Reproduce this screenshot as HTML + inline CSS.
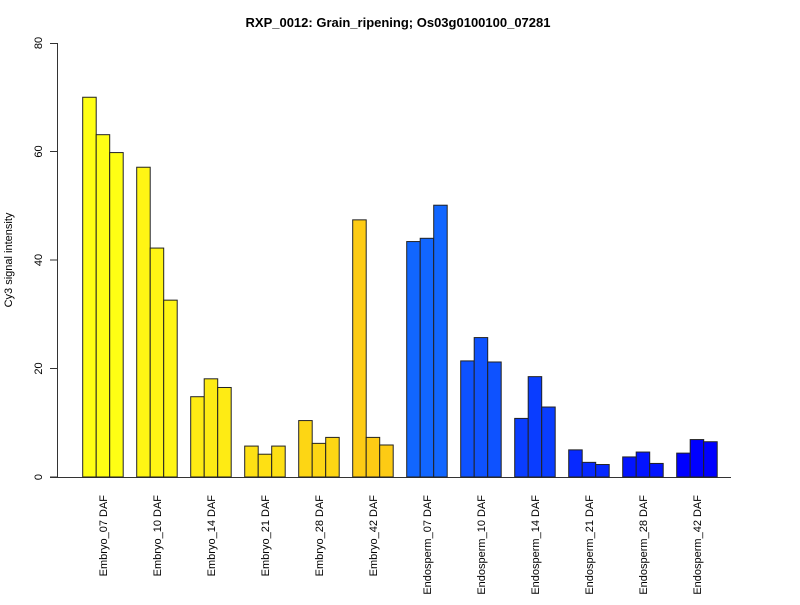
<!DOCTYPE html>
<html><head><meta charset="utf-8"><style>html,body{margin:0;padding:0;background:#fff}</style></head>
<body>
<svg xmlns="http://www.w3.org/2000/svg" width="800" height="600" viewBox="0 0 800 600" font-family="Liberation Sans, Arial, sans-serif">
<rect width="800" height="600" fill="#fff"/>
<text x="398" y="27" text-anchor="middle" font-weight="bold" font-size="13">RXP_0012: Grain_ripening; Os03g0100100_07281</text>
<text transform="translate(12,260) rotate(-90)" text-anchor="middle" font-size="11">Cy3 signal intensity</text>
<g stroke="#333" stroke-width="1">
<line x1="57.5" y1="43" x2="57.5" y2="477"/>
<line x1="50" y1="43.5" x2="57.5" y2="43.5"/>
<line x1="50" y1="151.5" x2="57.5" y2="151.5"/>
<line x1="50" y1="260" x2="57.5" y2="260"/>
<line x1="50" y1="368.5" x2="57.5" y2="368.5"/>
<line x1="50" y1="477" x2="57.5" y2="477"/>
<line x1="50" y1="477.5" x2="731" y2="477.5"/>
</g>
<g font-size="11" text-anchor="middle">
<text transform="translate(42,43) rotate(-90)">80</text>
<text transform="translate(42,151.5) rotate(-90)">60</text>
<text transform="translate(42,260) rotate(-90)">40</text>
<text transform="translate(42,368.5) rotate(-90)">20</text>
<text transform="translate(42,477) rotate(-90)">0</text>
</g>
<g id="bars" stroke="#222" stroke-width="1"></g>
<g id="labels" font-size="11" text-anchor="end"></g>
<script>
var data=[[70.0,63.1,59.8],[57.1,42.2,32.6],[14.8,18.1,16.5],[5.7,4.2,5.7],[10.4,6.2,7.3],[47.4,7.3,5.9],[43.4,44.0,50.1],[21.4,25.7,21.2],[10.8,18.5,12.9],[5.0,2.7,2.3],[3.7,4.6,2.5],[4.4,6.9,6.5]];
var cols=["#FFFF14","#FFF514","#FEEB14","#FEE014","#FDD614","#FDCB14","#1166FF","#0E52FF","#0A3DFF","#0729FF","#0314FF","#0000FF"];
var names=["Embryo_07 DAF","Embryo_10 DAF","Embryo_14 DAF","Embryo_21 DAF","Embryo_28 DAF","Embryo_42 DAF","Endosperm_07 DAF","Endosperm_10 DAF","Endosperm_14 DAF","Endosperm_21 DAF","Endosperm_28 DAF","Endosperm_42 DAF"];
var ns="http://www.w3.org/2000/svg",b=document.getElementById("bars"),l=document.getElementById("labels");
var bw=13.5,s=5.425;
for(var g=0;g<12;g++){var x0=82.7+54*g;
for(var k=0;k<3;k++){var h=data[g][k]*s,r=document.createElementNS(ns,"rect");
r.setAttribute("x",x0+k*bw);r.setAttribute("y",477-h);r.setAttribute("width",bw);r.setAttribute("height",h);r.setAttribute("fill",cols[g]);b.appendChild(r);}
var t=document.createElementNS(ns,"text");var cx=x0+1.5*bw+4;
t.setAttribute("transform","translate("+cx+",495) rotate(-90)");t.textContent=names[g];l.appendChild(t);}
</script>
</svg>
</body></html>
